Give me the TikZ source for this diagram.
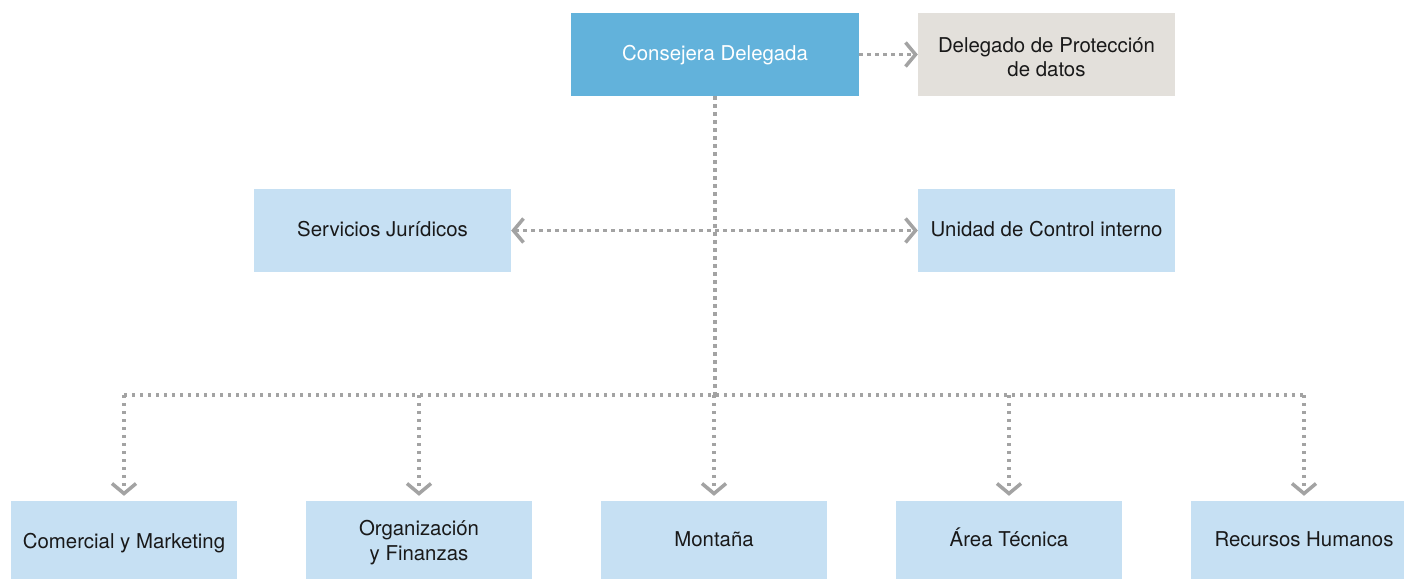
\documentclass[tikz,border=0pt]{standalone}
\usepackage{fontspec}
\setmainfont{TeX Gyre Heros}
\usetikzlibrary{arrows.meta}
\definecolor{cdblue}{HTML}{62B2DB}
\definecolor{lightblue}{HTML}{C6E0F3}
\definecolor{beige}{HTML}{E3E0DB}
\definecolor{linegray}{HTML}{A3A3A3}
\begin{document}
\begin{tikzpicture}[x=1pt,y=-1pt,
  box/.style={inner sep=0pt, align=center, minimum height=83pt,
    font=\fontsize{20.4}{24}\selectfont, text=black!90},
  oneline/.style={text height=16pt, text depth=5pt},
  topbox/.style={box, oneline, fill=cdblue, text=white, minimum width=288pt},
  sidebox/.style={box, fill=beige, minimum width=257pt},
  midbox/.style={box, oneline, fill=lightblue, minimum width=257pt},
  lowbox/.style={box, fill=lightblue, minimum width=226pt},
  conn/.style={draw=linegray, line width=3.3pt, dash pattern=on 3.3pt off 4.7pt},
  tip/.tip={Straight Barb[length=10pt,width=24pt,line width=3.5pt,line cap=butt,line join=miter]},
]
\useasboundingbox (0,0) rectangle (1404,578);
\clip (0,0) rectangle (1404,578);
\fill[white] (0,0) rectangle (1404,578);

\node[topbox] (cd) at (715,54.5) {Consejera Delegada};
\node[sidebox] (dp) at (1046.5,54.5) {\begin{minipage}{250pt}\centering\vspace*{6pt}Delegado de Protección\\de datos\end{minipage}};
\node[midbox] (sj) at (382.5,230.5) {Servicios Jurídicos};
\node[midbox] (uc) at (1046.5,230.5) {Unidad de Control interno};

\node[lowbox, oneline] (cm) at (124,542.5) {Comercial y Marketing};
\node[lowbox, font=\fontsize{20.4}{25}\selectfont] (of) at (419,542.5) {Organización\\y Finanzas};
\node[lowbox, oneline] (mo) at (714,542.5) {\raisebox{2pt}{Montaña}};
\node[lowbox, oneline] (at) at (1009,542.5) {\raisebox{2pt}{Área Técnica}};
\node[lowbox, oneline] (rh) at (1304,542.5) {\raisebox{2pt}{Recursos Humanos}};

\coordinate (bl) at (124,395);
\coordinate (br) at (1304,395);

\draw[conn,-{tip}] (cd.east) -- (dp.west);
\draw[conn] (cd.south) -- (cd.south |- bl);
\draw[conn,{tip}-{tip}] (sj.east) -- (uc.west);
\draw[conn] (bl) -- (br);
\draw[conn,-{tip},shorten >=5pt] (bl) -- (cm.north);
\draw[conn,-{tip},shorten >=5pt] (of.north |- bl) -- (of.north);
\draw[conn,-{tip},shorten >=5pt] (mo.north |- bl) -- (mo.north);
\draw[conn,-{tip},shorten >=5pt] (at.north |- bl) -- (at.north);
\draw[conn,-{tip},shorten >=5pt] (br) -- (rh.north);
\end{tikzpicture}
\end{document}
